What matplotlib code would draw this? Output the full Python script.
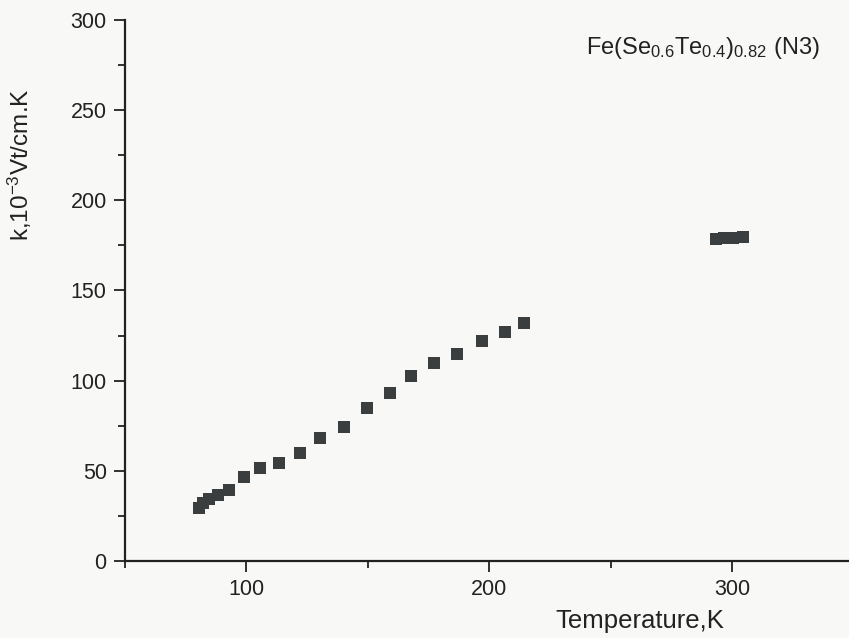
import matplotlib.pyplot as plt
from matplotlib.ticker import MultipleLocator

plt.rcParams['font.family'] = ['Liberation Sans', 'DejaVu Sans']
plt.rcParams['mathtext.fontset'] = 'custom'
plt.rcParams['mathtext.rm'] = 'Liberation Sans'
plt.rcParams['mathtext.it'] = 'Liberation Sans'

# Temperature (K) and k (10^-3 V/cm.K)
temperature = [80.7, 82.3, 84.8, 88.2, 93.0, 98.9, 105.8, 113.6, 122.0, 130.5,
               140.3, 149.7, 159.1, 167.9, 177.4, 186.8, 197.1, 206.6, 214.1,
               293.3, 296.4, 300.1, 304.2]
k_values = [29.2, 32.0, 34.2, 36.6, 39.4, 46.8, 51.5, 54.2, 59.7, 68.4,
            74.5, 84.7, 93.3, 102.6, 109.6, 114.6, 122.0, 127.2, 132.2,
            178.4, 179.0, 179.3, 179.9]

bg = '#f8f8f6'
fig = plt.figure(figsize=(8.49, 6.38), dpi=100, facecolor=bg)
ax = fig.add_axes([0.147, 0.1207, 0.853, 0.848], facecolor=bg)

ax.plot(temperature, k_values, 's', color='#3b3e3f', markersize=8.8,
        markeredgewidth=0)

ax.set_xlim(50, 348)
ax.set_ylim(0, 300)
ax.xaxis.set_major_locator(MultipleLocator(100))
ax.xaxis.set_minor_locator(MultipleLocator(50))
ax.yaxis.set_major_locator(MultipleLocator(50))
ax.yaxis.set_minor_locator(MultipleLocator(25))

for s in ['top', 'right']:
    ax.spines[s].set_visible(False)
for s in ['left', 'bottom']:
    ax.spines[s].set_linewidth(1.6)
    ax.spines[s].set_color('#222222')

ax.tick_params(which='major', length=8, width=1.3, labelsize=15.5,
               colors='#222222', pad=5)
ax.tick_params(which='minor', length=5, width=1.3, colors='#222222')

ax.set_ylabel(r'k,10$^{-3}$Vt/cm.K', fontsize=17.5, color='#222222')
ax.yaxis.set_label_coords(-0.125, 0.732)
ax.set_xlabel('Temperature,K', fontsize=18.5, color='#222222')
ax.xaxis.set_label_coords(0.711, -0.088)

ax.text(0.96, 0.948,
        r'Fe(Se$\mathregular{_{0.6}}$Te$\mathregular{_{0.4}}$)$\mathregular{_{0.82}}$ (N3)',
        transform=ax.transAxes, ha='right', va='center', fontsize=17,
        color='#222222')

fig.savefig('out.png', dpi=100, facecolor=bg)
